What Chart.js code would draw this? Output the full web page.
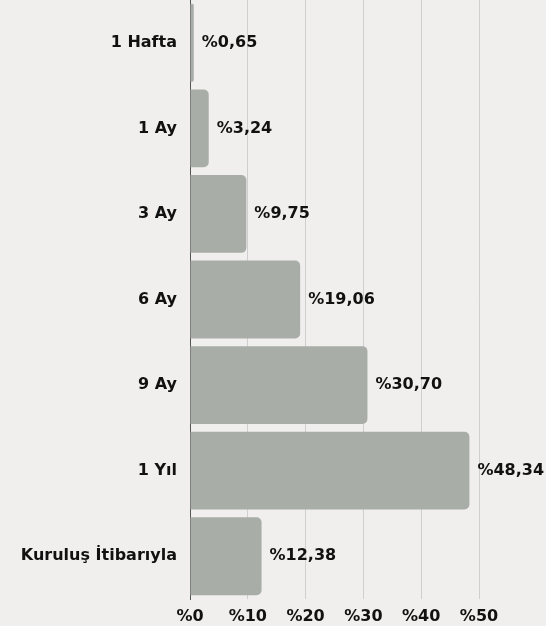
<!DOCTYPE html>
<html lang="tr">
<head>
<meta charset="UTF-8">
<title>Getiri</title>
<script src="https://cdn.jsdelivr.net/npm/chart.js@4.4.1/dist/chart.umd.min.js"></script>
<style>
    html, body { margin: 0; padding: 0; background: #f0efee; }
    .wrap { width: 546px; height: 626px; }
</style>
</head>
<body>
<div class="wrap"><canvas id="chart"></canvas></div>
<script>
    // veriler
    const periods = ['1 Hafta', '1 Ay', '3 Ay', '6 Ay', '9 Ay', '1 Yıl', 'Kuruluş İtibarıyla'];
    const returns = [0.65, 3.24, 9.75, 19.06, 30.70, 48.34, 12.38];
    const xTicks = [0, 10, 20, 30, 40, 50];

    const FONT = '"DejaVu Sans", sans-serif';

    function fmt(v) {
        return '%' + v.toFixed(2).replace('.', ',');
    }

    // bar sonuna değer etiketi
    const valueLabels = {
        id: 'valueLabels',
        afterDatasetsDraw(chart) {
            const ctx = chart.ctx;
            const meta = chart.getDatasetMeta(0);
            ctx.save();
            ctx.font = 'bold 16px ' + FONT;
            ctx.fillStyle = '#111';
            ctx.textAlign = 'left';
            ctx.textBaseline = 'middle';
            meta.data.forEach((bar, i) => {
                ctx.fillText(fmt(returns[i]), bar.x + 8, bar.y);
            });
            ctx.restore();
        }
    };

    new Chart(document.getElementById('chart'), {
        type: 'bar',
        data: {
            labels: periods,
            datasets: [{
                data: returns,
                backgroundColor: '#a9ada8',
                borderRadius: 5,
                borderSkipped: 'start',
                barPercentage: 0.91,
                categoryPercentage: 1
            }]
        },
        options: {
            indexAxis: 'y',
            responsive: true,
            maintainAspectRatio: false,
            animation: false,
            layout: { padding: { top: 0, right: 67, bottom: 0, left: 0 } },
            plugins: {
                legend: { display: false },
                tooltip: { enabled: false }
            },
            scales: {
                x: {
                    min: 0,
                    max: 50,
                    afterBuildTicks: scale => { scale.ticks = xTicks.map(v => ({ value: v })); },
                    afterFit: scale => { scale.height = 27; },
                    grid: { color: '#cfcfcf', drawTicks: false },
                    border: { display: false },
                    ticks: {
                        padding: 8,
                        color: '#111',
                        font: { family: FONT, size: 16, weight: 'bold' },
                        callback: v => '%' + v
                    }
                },
                y: {
                    afterFit: scale => {
                        scale.width = 190;
                        scale.paddingTop = 0;
                        scale.paddingBottom = 0;
                    },
                    grid: { display: false, drawTicks: false },
                    border: { display: true, color: '#555', width: 1 },
                    ticks: {
                        padding: 13,
                        color: '#111',
                        font: { family: FONT, size: 16, weight: 'bold' }
                    }
                }
            }
        },
        plugins: [valueLabels]
    });
</script>
</body>
</html>
